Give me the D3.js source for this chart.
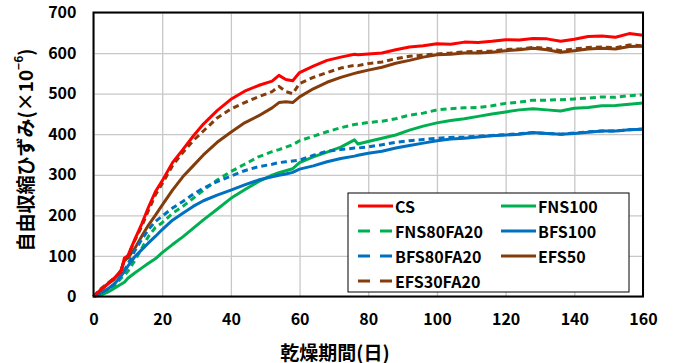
<html>
<head>
  <script src="https://d3js.org/d3.v7.min.js"></script>
  <style>
    body { margin: 0; background: #fff; }
    text { font-family: "Noto Sans CJK JP", "Noto Sans", sans-serif; font-weight: bold; fill: #000; }
    .gridlines .domain { display: none; }
    .gridlines line { stroke: #c8c8c8; stroke-width: 1.3; }
    .axis .domain { display: none; }
    .axis line { display: none; }
  </style>
</head>
<body>
  <svg id="chart" width="673" height="363"></svg>
  <script>
    // drying days (shared by every series)
    const days = [0, 2, 4, 6, 8, 9, 10, 12, 14, 16, 18, 20, 23, 26, 29, 32, 36, 40, 44, 48, 52, 54, 56, 58, 60,
      64, 68, 72, 76, 77, 80, 84, 88, 92, 96, 100, 104, 108, 112, 116, 120, 124, 128, 132, 136, 140, 144, 148, 152, 156, 160];

    const cs = [0, 15, 30, 45, 60, 95, 100, 140, 178, 220, 258, 285, 330, 362, 395, 425, 458, 486, 506, 520, 531, 545, 535, 532, 552,
      568, 582, 590, 597, 596, 598, 600, 608, 615, 618, 623, 622, 627, 626, 629, 633, 632, 636, 635, 629, 634, 641, 642, 639, 648, 644];
    const fns100 = [0, 3, 10, 20, 30, 35, 45, 58, 70, 82, 93, 108, 128, 147, 168, 189, 215, 242, 263, 283, 299, 305, 310, 315, 330,
      344, 356, 368, 386, 376, 382, 390, 398, 410, 420, 428, 434, 438, 444, 450, 455, 460, 463, 460, 457, 464, 466, 470, 471, 474, 477];
    const fns80fa20 = [0, 5, 12, 25, 45, 52, 62, 88, 118, 148, 170, 182, 205, 222, 242, 262, 287, 308, 326, 344, 357, 362, 368, 374, 384,
      395, 406, 416, 424, 425, 429, 432, 438, 447, 452, 460, 463, 465, 466, 470, 476, 479, 484, 484, 485, 487, 489, 492, 491, 495, 497];
    const bfs100 = [0, 8, 18, 30, 50, 62, 75, 98, 115, 132, 148, 165, 188, 205, 222, 236, 250, 262, 275, 287, 295, 299, 302, 306, 314,
      322, 332, 340, 346, 348, 353, 358, 366, 372, 378, 384, 388, 390, 393, 396, 398, 400, 404, 402, 400, 402, 405, 408, 408, 411, 412];
    const bfs80fa20 = [0, 8, 18, 30, 52, 65, 80, 112, 140, 165, 185, 198, 218, 234, 252, 267, 283, 297, 310, 320, 326, 330, 332, 334, 336,
      348, 358, 362, 366, 366, 369, 374, 380, 384, 387, 390, 392, 393, 395, 397, 399, 401, 404, 402, 400, 403, 406, 408, 408, 411, 413];
    const efs50 = [0, 16, 30, 42, 65, 88, 95, 118, 148, 176, 200, 225, 262, 295, 322, 349, 380, 405, 428, 445, 465, 478, 480, 478, 492,
      512, 528, 540, 550, 552, 558, 565, 575, 582, 590, 596, 597, 600, 600, 602, 606, 608, 612, 608, 602, 606, 610, 612, 610, 616, 617];
    const efs30fa20 = [0, 18, 32, 45, 62, 92, 100, 138, 172, 212, 250, 278, 322, 355, 384, 408, 440, 462, 478, 492, 505, 518, 505, 500, 525,
      540, 552, 563, 570, 569, 574, 578, 586, 592, 595, 598, 600, 603, 604, 605, 609, 610, 614, 612, 606, 610, 614, 615, 613, 620, 618];

    const seriesNames = ["CS", "FNS100", "FNS80FA20", "BFS100", "BFS80FA20", "EFS50", "EFS30FA20"];
    const seriesValues = [cs, fns100, fns80fa20, bfs100, bfs80fa20, efs50, efs30fa20];
    const seriesColors = ["#ff0000", "#00b050", "#00b050", "#0070c0", "#0070c0", "#843c0c", "#843c0c"];
    const seriesDashed = [false, false, true, false, true, false, true];

    const xTicks = [0, 20, 40, 60, 80, 100, 120, 140, 160];
    const yTicks = [0, 100, 200, 300, 400, 500, 600, 700];

    const plotLeft = 93.5, plotRight = 643, plotTop = 12.5, plotBottom = 296.5;
    const xScale = d3.scaleLinear().domain([0, 160]).range([plotLeft, plotRight]);
    const yScale = d3.scaleLinear().domain([0, 700]).range([plotBottom, plotTop]);

    const svg = d3.select("svg#chart");

    // gridlines
    svg.append("g")
      .attr("class", "gridlines")
      .attr("transform", `translate(0,${plotBottom})`)
      .call(d3.axisBottom(xScale).tickValues(xTicks).tickSize(-(plotBottom - plotTop)).tickFormat(""));
    svg.append("g")
      .attr("class", "gridlines")
      .attr("transform", `translate(${plotLeft},0)`)
      .call(d3.axisLeft(yScale).tickValues(yTicks).tickSize(-(plotRight - plotLeft)).tickFormat(""));

    // tick labels
    svg.append("g")
      .attr("class", "axis")
      .attr("transform", `translate(0,${plotBottom + 9})`)
      .call(d3.axisBottom(xScale).tickValues(xTicks).tickSize(0).tickPadding(8))
      .selectAll("text").style("font-size", "16px");
    svg.append("g")
      .attr("class", "axis")
      .attr("transform", `translate(${plotLeft - 16},0)`)
      .call(d3.axisLeft(yScale).tickValues(yTicks).tickSize(0).tickPadding(1))
      .selectAll("text").style("font-size", "16px");

    // series
    const line = d3.line()
      .x((d, i) => xScale(days[i]))
      .y(d => yScale(d));

    const drawOrder = [5, 6, 1, 2, 3, 4, 0];
    drawOrder.forEach(i => {
      svg.append("path")
        .attr("d", line(seriesValues[i]))
        .attr("fill", "none")
        .attr("stroke", seriesColors[i])
        .attr("stroke-width", 3)
        .attr("stroke-linejoin", "round")
        .attr("stroke-dasharray", seriesDashed[i] ? "6,4" : null);
    });

    // plot border
    svg.append("rect")
      .attr("x", plotLeft).attr("y", plotTop)
      .attr("width", plotRight - plotLeft).attr("height", plotBottom - plotTop)
      .attr("fill", "none")
      .attr("stroke", "#000")
      .attr("stroke-width", 2);

    // legend
    const legend = svg.append("g");
    legend.append("rect")
      .attr("x", 348).attr("y", 193)
      .attr("width", 281).attr("height", 99)
      .attr("fill", "#fff")
      .attr("stroke", "#000")
      .attr("stroke-width", 1);
    seriesNames.forEach((name, k) => {
      const col = k % 2, row = Math.floor(k / 2);
      const lx = col === 0 ? 358 : 501;
      const ly = 206 + row * 25;
      legend.append("line")
        .attr("x1", lx).attr("x2", lx + 35)
        .attr("y1", ly).attr("y2", ly)
        .attr("stroke", seriesColors[k])
        .attr("stroke-width", 3)
        .attr("stroke-dasharray", seriesDashed[k] ? "12,10" : null);
      legend.append("text")
        .attr("x", lx + 37).attr("y", ly)
        .attr("dominant-baseline", "central")
        .style("font-size", "16px")
        .text(name);
    });

    // axis titles
    svg.append("text")
      .attr("x", 335).attr("y", 351)
      .attr("text-anchor", "middle")
      .attr("dominant-baseline", "central")
      .style("font-size", "19px")
      .text("乾燥期間(日)");

    const yTitle = svg.append("text")
      .attr("transform", "translate(24,150) rotate(-90)")
      .attr("text-anchor", "middle")
      .attr("dominant-baseline", "central")
      .style("font-size", "19px");
    yTitle.append("tspan").text("自由収縮ひずみ(×10");
    yTitle.append("tspan").attr("dy", -7).style("font-size", "12px").text("−6");
    yTitle.append("tspan").attr("dy", 7).text(")");
  </script>
</body>
</html>
